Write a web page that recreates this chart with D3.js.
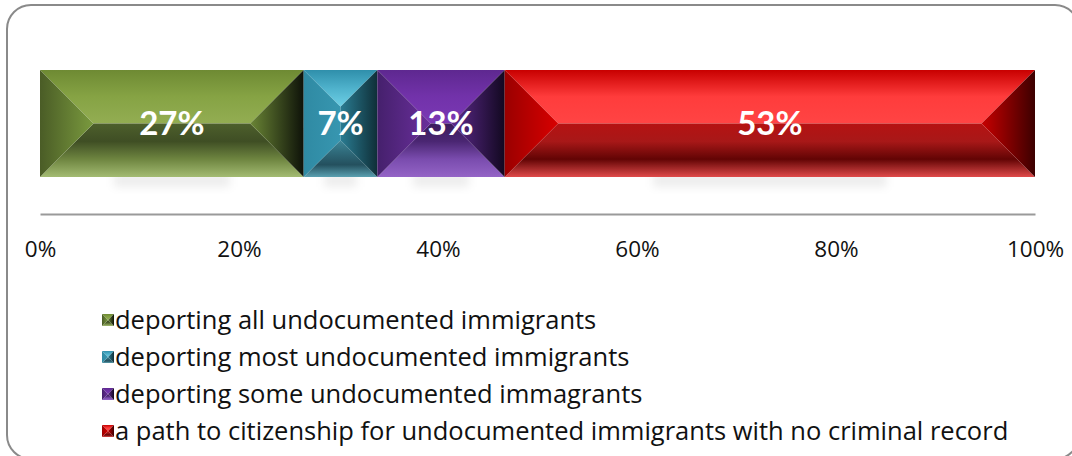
<!DOCTYPE html>
<html><head><meta charset="utf-8">
<script src="https://cdn.jsdelivr.net/npm/d3@7"></script>
<style>body{margin:0;background:#fff}svg{display:block}</style>
</head><body><svg id="c" width="1072" height="456"></svg>
<script>
const categories = [
  "deporting all undocumented immigrants",
  "deporting most undocumented immigrants",
  "deporting some undocumented immagrants",
  "a path to citizenship for undocumented immigrants with no criminal record"
];
const values = [26.5, 7.4, 12.8, 53.3];
const tickValues = [0, 20, 40, 60, 80, 100];
// per series: top face, bottom face, left side, right side gradient stops
const palettes = [
  {top:["#6e8a33","#86a344","#93ad52"], bottom:["#4d5f2c","#3f4e24","#6e8540","#a3bb72"], left:["#4a5c26","#7a9a3e"], right:["#6a8535","#0e1209"]},
  {top:["#2f8fab","#4fb2cc","#6ed0e6"], bottom:["#3f8798","#2f6a7a","#24505e","#5aa0b0"], left:["#2f8aa3","#3796b0"], right:["#2a7c92","#0f2f38"]},
  {top:["#5e2890","#7232aa","#7a38b4"], bottom:["#3b1c5c","#4a2672","#7a4cae","#9464c6"], left:["#45206c","#6a2f9c"], right:["#5e2a8e","#120820"]},
  {top:["#c80000","#ff3c3c","#ff4444"], bottom:["#b51212","#a81818","#620404","#e04a4a"], left:["#9a0000","#d80000"], right:["#c80000","#3c0000"]}
];

const svg = d3.select("#c");
const defs = svg.append("defs");

// rounded frame
svg.append("rect").attr("x",7).attr("y",5).attr("width",1072).attr("height",454)
  .attr("rx",24).attr("ry",24).attr("fill","#fff").attr("stroke","#8a8a8a").attr("stroke-width",2);

const x = d3.scaleLinear().domain([0,100]).range([40,1035]);
const y0 = 70, y1 = 177;

// gradients
palettes.forEach((p,i)=>{
  const mk = (id, stops, horiz) => {
    const g = defs.append("linearGradient").attr("id",id)
      .attr("x1",0).attr("y1",0).attr("x2",horiz?1:0).attr("y2",horiz?0:1);
    stops.forEach((c,k)=>g.append("stop").attr("offset",k/(stops.length-1)).attr("stop-color",c));
  };
  mk(`top${i}`, p.top, false);
  mk(`bot${i}`, p.bottom, false);
  mk(`lft${i}`, p.left, true);
  mk(`rgt${i}`, p.right, true);
});
defs.append("filter").attr("id","blur").attr("x","-50%").attr("y","-50%").attr("width","200%").attr("height","200%")
  .append("feGaussianBlur").attr("stdDeviation",4);

function bevel(g, i, a0, a1, b0, b1){
  const b = Math.min((a1-a0)/2, (b1-b0)/2);
  const pts = arr => arr.map(p=>p.join(",")).join(" ");
  g.append("polygon").attr("points",pts([[a0,b0],[a1,b0],[a1-b,b0+b],[a0+b,b0+b]])).attr("fill",`url(#top${i})`);
  g.append("polygon").attr("points",pts([[a0,b1],[a1,b1],[a1-b,b1-b],[a0+b,b1-b]])).attr("fill",`url(#bot${i})`);
  g.append("polygon").attr("points",pts([[a0,b0],[a0+b,b0+b],[a0+b,b1-b],[a0,b1]])).attr("fill",`url(#lft${i})`);
  g.append("polygon").attr("points",pts([[a1,b0],[a1-b,b0+b],[a1-b,b1-b],[a1,b1]])).attr("fill",`url(#rgt${i})`);
}

const stacked = [];
let acc = 0;
values.forEach((v,i)=>{ stacked.push({i, v, s:acc, e:acc+v}); acc += v; });

// soft shadow beneath
const sh = svg.append("g").attr("filter","url(#blur)");
stacked.forEach(d=>{
  const a0 = x(d.s), a1 = x(d.e), w = a1-a0;
  sh.append("rect").attr("x",a0+w*0.28).attr("y",y1-4).attr("width",w*0.44).attr("height",14)
    .attr("fill","#000").attr("opacity",0.07);
});

const bars = svg.append("g");
stacked.forEach(d=>{
  const g = bars.append("g");
  bevel(g, d.i, x(d.s), x(d.e), y0, y1);
});

// value labels
svg.append("g").selectAll("text").data(stacked).join("text")
  .attr("x",d=>(x(d.s)+x(d.e))/2).attr("y",(y0+y1)/2)
  .attr("dy","0.36em").attr("text-anchor","middle")
  .attr("font-family","Lato, 'Open Sans', sans-serif").attr("font-weight","bold")
  .attr("font-size",33).attr("fill","#fff")
  .text(d=>Math.round(d.v)+"%");

// axis
const axis = d3.axisBottom(x).tickValues(tickValues).tickSize(0).tickPadding(27)
  .tickFormat(d=>d+"%");
const ag = svg.append("g").attr("transform","translate(0,214)").call(axis);
ag.select(".domain").attr("stroke","#9a9a9a").attr("stroke-width",2);
ag.selectAll("text").attr("font-family","'Open Sans', sans-serif").attr("font-size",22.5).attr("fill","#111");

// legend
const lg = svg.append("g");
const rowY = d3.scalePoint().domain(d3.range(categories.length)).range([320,431]);
categories.forEach((c,i)=>{
  const cy = rowY(i);
  const g = lg.append("g");
  bevel(g, i, 102, 114, cy-6, cy+6);
  lg.append("text").attr("x",115).attr("y",cy).attr("dy","0.36em")
    .attr("font-family","'Open Sans', sans-serif").attr("font-size",25.5).attr("fill","#111")
    .text(c);
});
</script></body></html>
